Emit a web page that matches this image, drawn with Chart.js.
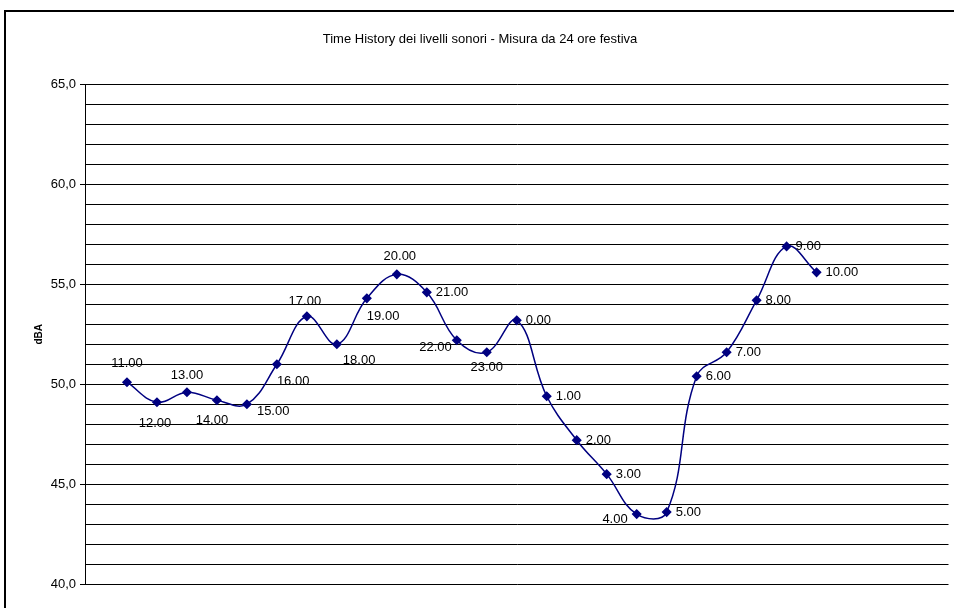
<!DOCTYPE html>
<html>
<head>
<meta charset="utf-8">
<script src="https://cdn.jsdelivr.net/npm/chart.js@4/dist/chart.umd.min.js"></script>
<style>
  html, body { margin: 0; padding: 0; background: #fff; }
  #wrap { width: 954px; height: 608px; }
</style>
</head>
<body>
<div id="wrap"><canvas id="history"></canvas></div>
<script>
// hours of the 24h measurement (holiday)
const hours = ['11.00', '12.00', '13.00', '14.00', '15.00', '16.00', '17.00', '18.00', '19.00', '20.00',
    '21.00', '22.00', '23.00', '0.00', '1.00', '2.00', '3.00', '4.00', '5.00', '6.00', '7.00', '8.00', '9.00', '10.00'];
const dBA = [50.1, 49.1, 49.6, 49.2, 49.0, 51.0, 53.4, 52.0, 54.3, 55.5,
    54.6, 52.2, 51.6, 53.2, 49.4, 47.2, 45.5, 43.5, 43.6, 50.4, 51.6, 54.2, 56.9, 55.6];
const yMin = 40;
const yMax = 65;

// where each label sits next to its point: [dx, dy, align]
const labelSpots = [
    [0, -19, 'center'], [-2, 21, 'center'], [0, -17, 'center'], [-5, 20, 'center'], [10, 7, 'left'],
    [0, 17, 'left'], [-2, -15, 'center'], [6, 16, 'left'], [0, 18, 'left'], [3, -18, 'center'],
    [9, 0, 'left'], [-5, 7, 'right'], [0, 15, 'center'], [9, 0, 'left'], [9, 0, 'left'],
    [9, 0, 'left'], [9, 0, 'left'], [-9, 5, 'right'], [9, 0, 'left'], [9, 0, 'left'],
    [9, 0, 'left'], [9, 0, 'left'], [9, 0, 'left'], [9, 0, 'left']
];

const frame = {
    id: 'frame',
    beforeDraw(chart) {
        const ctx = chart.ctx;
        ctx.save();
        ctx.fillStyle = '#fff';
        ctx.fillRect(0, 0, chart.width, chart.height);
        ctx.strokeStyle = '#000';
        ctx.lineWidth = 2;
        ctx.strokeRect(5, 11, 1200, 1200);
        ctx.restore();
    }
};

const pointLabels = {
    id: 'pointLabels',
    afterDatasetsDraw(chart) {
        const ctx = chart.ctx;
        const meta = chart.getDatasetMeta(0);
        ctx.save();
        ctx.font = '13px "Liberation Sans", Arial, sans-serif';
        ctx.fillStyle = '#000';
        ctx.textBaseline = 'middle';
        meta.data.forEach((pt, i) => {
            const s = labelSpots[i];
            ctx.textAlign = s[2];
            ctx.fillText(hours[i], pt.x + s[0], pt.y + s[1]);
        });
        ctx.restore();
    }
};

const history = document.getElementById('history');

new Chart(history, {
    type: 'line',
    data: {
        datasets: [{
            label: 'dBA',
            data: dBA.map((v, i) => ({ x: i, y: v })),
            borderColor: '#000080',
            backgroundColor: '#000080',
            borderWidth: 1.5,
            tension: 0.4,
            pointStyle: 'rectRot',
            pointRadius: 4,
            pointHoverRadius: 4,
            fill: false
        }]
    },
    options: {
        responsive: true,
        maintainAspectRatio: false,
        animation: false,
        layout: {
            padding: { top: 20, left: 10, right: 4, bottom: 24 }
        },
        plugins: {
            legend: { display: false },
            tooltip: { enabled: false },
            title: {
                display: true,
                text: 'Time History dei livelli sonori - Misura da 24 ore festiva',
                color: '#000',
                font: { family: '"Liberation Sans", Arial, sans-serif', size: 13, weight: 'normal' },
                padding: { top: 12, bottom: 37 }
            }
        },
        scales: {
            x: {
                type: 'linear',
                display: false,
                min: -1.4,
                max: 27.4
            },
            y: {
                min: yMin,
                max: yMax,
                afterFit(scale) { scale.width = 75; },
                border: { display: true, color: '#000', width: 1 },
                grid: {
                    color: '#000',
                    lineWidth: 1,
                    tickLength: 5,
                    tickColor: ctx => ctx.tick && ctx.tick.value % 5 === 0 ? '#000' : 'rgba(0,0,0,0)'
                },
                ticks: {
                    stepSize: 1,
                    autoSkip: false,
                    padding: 4,
                    color: '#000',
                    font: { family: '"Liberation Sans", Arial, sans-serif', size: 13 },
                    callback: v => v % 5 === 0 ? v.toFixed(1).replace('.', ',') : ''
                },
                title: {
                    display: true,
                    text: 'dBA',
                    color: '#000',
                    font: { family: '"Liberation Sans", Arial, sans-serif', size: 10, weight: 'bold' },
                    padding: { top: 23, bottom: 0 }
                }
            }
        }
    },
    plugins: [frame, pointLabels]
});
</script>
</body>
</html>
